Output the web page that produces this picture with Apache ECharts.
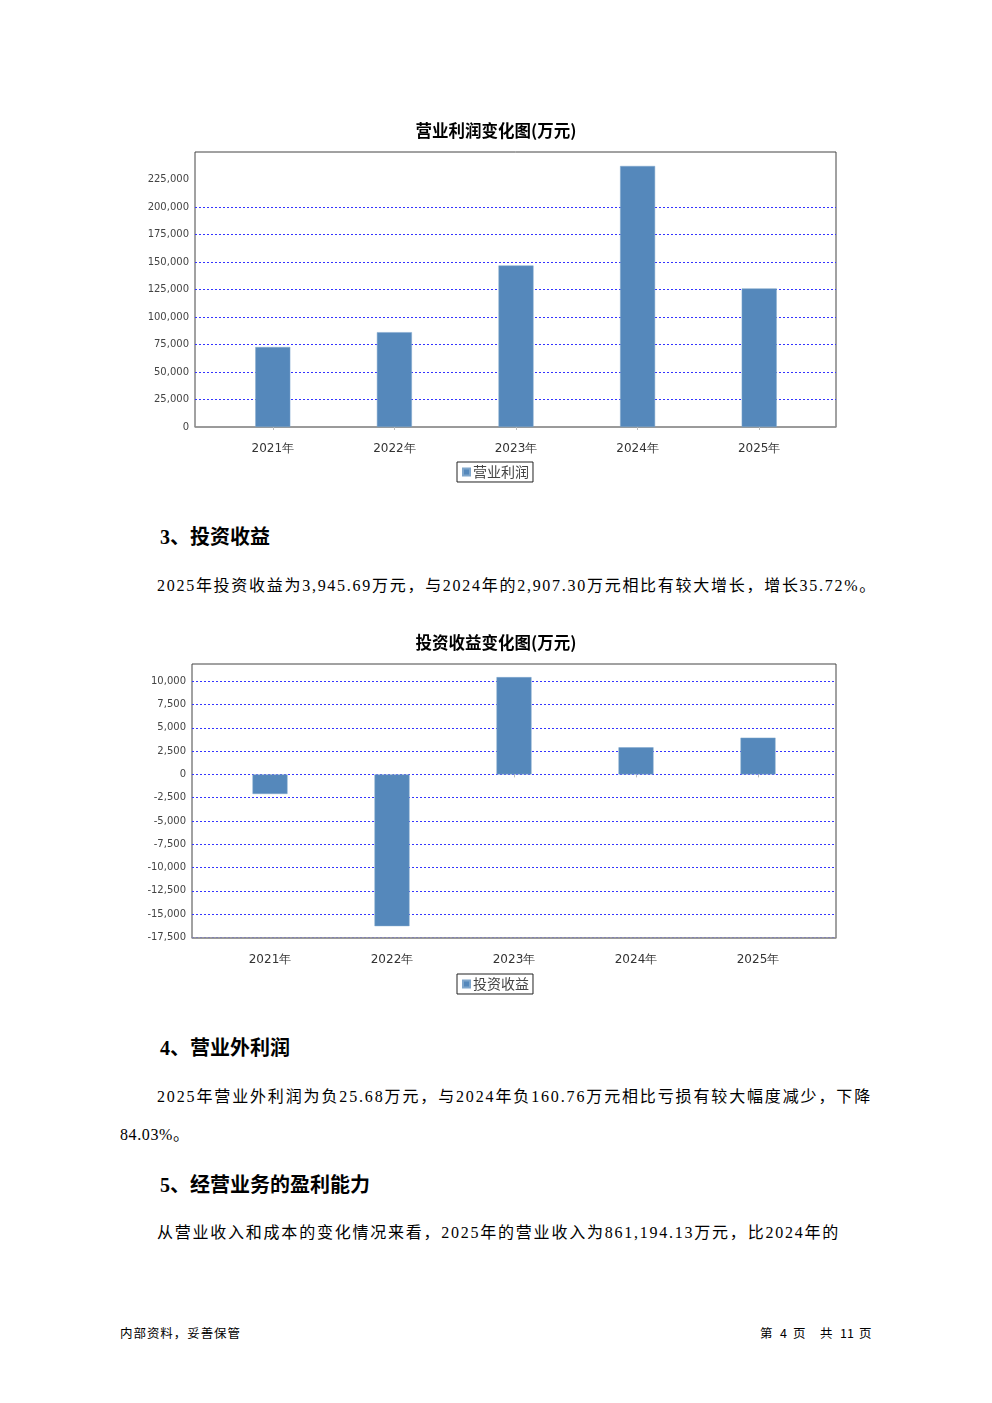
<!DOCTYPE html>
<html>
<head>
<meta charset="utf-8">
<script src="https://cdn.jsdelivr.net/npm/echarts@6/dist/echarts.min.js"></script>
<style>
  html, body { margin: 0; padding: 0; background: #fff; }
  body { width: 992px; height: 1403px; position: relative; overflow: hidden;
         font-family: "Liberation Serif", "Noto Sans CJK SC", serif; color: #000; }
  .chart { position: absolute; left: 0; width: 992px; height: 400px; }
  .t { position: absolute; white-space: nowrap; line-height: 1; }
  .h { font-size: 20px; font-weight: bold; }
  .p { font-size: 16px; }
  .f { font-size: 12.5px; font-family: "Noto Sans CJK SC", sans-serif; }
</style>
</head>
<body>
<div id="c1" class="chart" style="top:100px"></div>
<div class="t h" style="left:160px; top:527px;">3、投资收益</div>
<div class="t p fit" data-w="720" style="left:157px; top:578px;">2025年投资收益为3,945.69万元，与2024年的2,907.30万元相比有较大增长，增长35.72%。</div>
<div id="c2" class="chart" style="top:615px"></div>
<div class="t h" style="left:160px; top:1038px;">4、营业外利润</div>
<div class="t p fit" data-w="715" style="left:157px; top:1089px;">2025年营业外利润为负25.68万元，与2024年负160.76万元相比亏损有较大幅度减少，下降</div>
<div class="t p" style="left:120px; top:1127px; letter-spacing:0.6px;">84.03%。</div>
<div class="t h" style="left:160px; top:1175px;">5、经营业务的盈利能力</div>
<div class="t p fit" data-w="683" style="left:157px; top:1225px;">从营业收入和成本的变化情况来看，2025年的营业收入为861,194.13万元，比2024年的</div>
<div class="t f fit" data-w="121" style="left:120px; top:1327px;">内部资料，妥善保管</div>
<div class="t f" style="left:760px; top:1327px;">第</div>
<div class="t f" style="left:780px; top:1327px;">4</div>
<div class="t f" style="left:793px; top:1327px;">页</div>
<div class="t f" style="left:820px; top:1327px;">共</div>
<div class="t f" style="left:840px; top:1327px;">11</div>
<div class="t f" style="left:859px; top:1327px;">页</div>
<script>
// ---- data ----
const years = ['2021年', '2022年', '2023年', '2024年', '2025年'];
const opProfit = [72700, 86200, 146800, 237300, 126000];
const invIncome = [-2100, -16300, 10450, 2907.30, 3945.69];
const chart1Title = '营业利润变化图(万元)';
const chart2Title = '投资收益变化图(万元)';
const series1Name = '营业利润';
const series2Name = '投资收益';

// fit body text lines to the measured line widths
document.querySelectorAll('.fit').forEach(el => {
  const n = [...el.textContent].length;
  const natural = el.getBoundingClientRect().width;
  const target = +el.dataset.w;
  el.style.letterSpacing = ((target - natural) / n) + 'px';
});

const BAR = '#5588bb';
const GRIDC = '#3434ff';
const fmt = v => Math.round(v).toLocaleString('en-US');

function build(o) {
  const boxW = o.r - o.l;
  return {
    animation: false,
    title: { text: o.title, left: 'center', top: o.titleTop,
      textStyle: { fontSize: 16.5, fontWeight: 'bold', color: '#000', fontFamily: 'Noto Sans CJK SC' } },
    legend: { data: [o.name], left: o.legendLeft, top: o.legendTop, icon: 'rect',
      itemWidth: 7, itemHeight: 7, padding: [3, 4, 3, 5], borderColor: '#222', borderWidth: 1,
      textStyle: { fontSize: 14, color: '#444', fontFamily: 'Noto Sans CJK SC', padding: [0, 0, 0, -2] } },
    grid: [
      { left: o.l, top: o.t, width: boxW, height: o.b - o.t, show: true, borderColor: '#444', borderWidth: 1, backgroundColor: 'transparent' },
      { left: o.l, top: o.vt, width: boxW, height: o.vb - o.vt },
      { left: o.bl, top: o.vt, width: o.bw, height: o.vb - o.vt }
    ],
    xAxis: [
      { gridIndex: 0, type: 'category', data: years, offset: 10,
        axisLine: { show: true, lineStyle: { color: '#999', width: 1.5 } },
        axisTick: { show: false }, axisLabel: { show: false }, splitLine: { show: false } },
      { gridIndex: 1, type: 'category', data: years, show: false },
      { gridIndex: 2, type: 'category', data: years, offset: o.xoff,
        axisLine: { show: false },
        axisTick: { show: true, alignWithLabel: true, length: 3, lineStyle: { color: '#bbb' } },
        axisLabel: { fontSize: 12, color: '#333', margin: 6, fontFamily: 'DejaVu Sans' } }
    ],
    yAxis: [
      { gridIndex: 0, type: 'value', show: false, min: 0, max: 1, splitLine: { show: false } },
      { gridIndex: 1, type: 'value', min: o.min, max: o.max, interval: o.interval,
        axisLine: { show: false }, axisTick: { show: false },
        axisLabel: { fontSize: 10, color: '#444', margin: 6, formatter: fmt, fontFamily: 'DejaVu Sans' },
        splitLine: { show: true, showMinLine: o.showMinLine, showMaxLine: o.showMaxLine,
          lineStyle: { color: GRIDC, type: [2, 2], width: 1 } } },
      { gridIndex: 2, type: 'value', min: o.min, max: o.max, show: false, splitLine: { show: false } }
    ],
    series: [
      { name: o.name, type: 'bar', xAxisIndex: 2, yAxisIndex: 2, data: o.data, barWidth: 35, clip: false,
        itemStyle: { color: BAR, borderColor: '#7fa6cc', borderWidth: 0.5 } }
    ]
  };
}

const c1 = echarts.init(document.getElementById('c1'), null, { renderer: 'canvas' });
c1.setOption(build({
  l: 195, r: 836, t: 52, b: 327, vt: 79.5, vb: 327,
  bl: 212, bw: 608, xoff: 10,
  min: 0, max: 225000, interval: 25000, showMinLine: false, showMaxLine: false,
  data: opProfit, title: chart1Title, name: series1Name,
  titleTop: 17, legendTop: 362, legendLeft: 457
}));

const c2 = echarts.init(document.getElementById('c2'), null, { renderer: 'canvas' });
c2.setOption(build({
  l: 192, r: 836, t: 49, b: 323, vt: 66.3, vb: 322.3,
  bl: 209, bw: 610, xoff: 11,
  min: -17500, max: 10000, interval: 2500, showMinLine: true, showMaxLine: true,
  data: invIncome, title: chart2Title, name: series2Name,
  titleTop: 14, legendTop: 359, legendLeft: 457
}));
</script>
</body>
</html>
